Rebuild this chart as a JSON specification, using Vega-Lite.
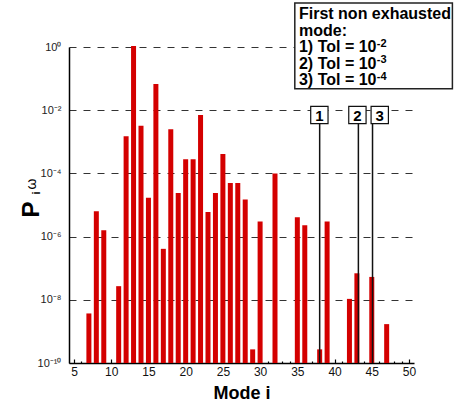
{
  "$schema": "https://vega.github.io/schema/vega-lite/v6.json",
  "width": 345,
  "height": 316,
  "autosize": {"type": "none"},
  "padding": {"left": 69, "top": 47, "right": 46, "bottom": 39},
  "config": {
    "font": "Liberation Sans",
    "view": {"stroke": null},
    "axis": {"labelFont": "Liberation Sans", "titleFont": "Liberation Sans"}
  },
  "datasets": {
    "modes": [
      {"mode": 7, "P": 3.7e-9},
      {"mode": 8, "P": 6.3e-6},
      {"mode": 9, "P": 1.6e-6},
      {"mode": 11, "P": 2.7e-8},
      {"mode": 12, "P": 1.5e-3},
      {"mode": 13, "P": 1.07},
      {"mode": 14, "P": 3.2e-3},
      {"mode": 15, "P": 1.7e-5},
      {"mode": 16, "P": 0.068},
      {"mode": 17, "P": 4.1e-7},
      {"mode": 18, "P": 2.5e-3},
      {"mode": 19, "P": 2.4e-5},
      {"mode": 20, "P": 2.8e-4},
      {"mode": 21, "P": 2.8e-4},
      {"mode": 22, "P": 7.1e-3},
      {"mode": 23, "P": 6e-6},
      {"mode": 24, "P": 2.4e-5},
      {"mode": 25, "P": 4.1e-4},
      {"mode": 26, "P": 5e-5},
      {"mode": 27, "P": 5e-5},
      {"mode": 28, "P": 1.5e-5},
      {"mode": 29, "P": 2.7e-10},
      {"mode": 30, "P": 3e-6},
      {"mode": 32, "P": 1e-4},
      {"mode": 35, "P": 4.1e-6},
      {"mode": 36, "P": 2.3e-6},
      {"mode": 38, "P": 2.7e-10},
      {"mode": 39, "P": 3e-6},
      {"mode": 42, "P": 1.07e-8},
      {"mode": 43, "P": 6.9e-8},
      {"mode": 45, "P": 5.3e-8},
      {"mode": 47, "P": 1.7e-9}
    ],
    "tolerances": [
      {"tol": "1", "firstMode": 38.0, "boxMode": 37.96},
      {"tol": "2", "firstMode": 43.2, "boxMode": 43.07},
      {"tol": "3", "firstMode": 45.1, "boxMode": 46.07}
    ]
  },
  "layer": [
    {
      "data": {"name": "modes"},
      "mark": {"type": "bar", "size": 5, "color": "#d40000"},
      "encoding": {
        "x": {
          "field": "mode", "type": "quantitative",
          "scale": {"domain": [5, 50], "nice": false, "zero": false},
          "axis": {
            "orient": "bottom",
            "values": [5,6,7,8,9,10,11,12,13,14,15,16,17,18,19,20,21,22,23,24,25,26,27,28,29,30,31,32,33,34,35,36,37,38,39,40,41,42,43,44,45,46,47,48,49,50],
            "tickCount": 100,
            "labelExpr": "datum.value % 5 === 0 ? format(datum.value, 'd') : ''",
            "labelOverlap": false,
            "labelFlush": false,
            "tickSize": {"condition": {"test": "datum.value % 5 === 0", "value": -4}, "value": -2},
            "tickColor": "#000",
            "tickWidth": 1.2,
            "labelPadding": 7,
            "labelFontSize": 12,
            "labelColor": "#111",
            "domainColor": "#000",
            "domainWidth": 1.6,
            "grid": false,
            "title": "Mode i",
            "titleFontSize": 18,
            "titleFontWeight": "bold",
            "titleColor": "#000",
            "titlePadding": 5
          }
        },
        "y": {
          "field": "P", "type": "quantitative",
          "scale": {"type": "log", "domain": [1e-10, 1], "nice": false},
          "axis": {
            "values": [1e-10, 1e-8, 1e-6, 1e-4, 1e-2, 1],
            "tickCount": 20,
            "labelExpr": "'10' + (datum.value > 0.5 ? '⁰' : datum.value > 5e-3 ? '⁻²' : datum.value > 5e-5 ? '⁻⁴' : datum.value > 5e-7 ? '⁻⁶' : datum.value > 5e-9 ? '⁻⁸' : '⁻¹⁰')",
            "ticks": false,
            "labelPadding": 8,
            "labelFontSize": 11,
            "labelColor": "#222",
            "domainColor": "#000",
            "domainWidth": 1.5,
            "grid": true,
            "gridDash": [7, 7],
            "gridColor": "#333",
            "gridWidth": 1,
            "title": null
          }
        },
        "y2": {"datum": 1e-10}
      }
    },
    {
      "data": {"name": "tolerances"},
      "mark": {"type": "rule", "color": "#111", "strokeWidth": 1.5},
      "encoding": {
        "x": {"field": "firstMode", "type": "quantitative"},
        "y": {"datum": 0.00366},
        "y2": {"datum": 1e-10}
      }
    },
    {
      "data": {"name": "tolerances"},
      "mark": {"type": "point", "shape": "square", "size": 300, "filled": true, "fill": "#fff", "stroke": "#111", "strokeWidth": 1.2, "opacity": 1},
      "encoding": {
        "x": {"field": "boxMode", "type": "quantitative"},
        "y": {"datum": 0.00705}
      }
    },
    {
      "data": {"name": "tolerances"},
      "mark": {"type": "text", "fontSize": 15, "fontWeight": "bold", "color": "#000", "align": "center", "baseline": "middle", "dy": 1},
      "encoding": {
        "x": {"field": "boxMode", "type": "quantitative"},
        "y": {"datum": 0.00705},
        "text": {"field": "tol"}
      }
    },
    {
      "data": {"values": [{}]},
      "mark": {"type": "rect", "fill": "#fff", "stroke": "#222", "strokeWidth": 1.5},
      "encoding": {
        "x": {"datum": 34.66, "type": "quantitative"},
        "x2": {"datum": 55.83},
        "y": {"datum": 24.7, "type": "quantitative"},
        "y2": {"datum": 0.0479}
      }
    },
    {
      "data": {"values": [{}]},
      "mark": {
        "type": "text",
        "text": ["First non exhausted", "mode:", "1) Tol = 10", "2) Tol = 10", "3) Tol = 10"],
        "lineHeight": 16.5,
        "fontSize": 16,
        "fontWeight": "bold",
        "color": "#000",
        "align": "left",
        "baseline": "alphabetic"
      },
      "encoding": {
        "x": {"datum": 35.22, "type": "quantitative"},
        "y": {"datum": 7.69, "type": "quantitative"}
      }
    },
    {
      "data": {"values": [{}]},
      "mark": {
        "type": "text",
        "text": ["-2", "-3", "-4"],
        "lineHeight": 16.5,
        "fontSize": 11,
        "fontWeight": "bold",
        "color": "#000",
        "align": "left",
        "baseline": "alphabetic"
      },
      "encoding": {
        "x": {"datum": 45.68, "type": "quantitative"},
        "y": {"datum": 1.037, "type": "quantitative"}
      }
    },
    {
      "data": {"values": [{}]},
      "mark": {"type": "text", "text": "P", "angle": 270, "fontSize": 24, "fontWeight": "bold", "color": "#000", "align": "center", "baseline": "middle"},
      "encoding": {
        "x": {"datum": -0.65, "type": "quantitative"},
        "y": {"datum": 7.2e-6, "type": "quantitative"}
      }
    },
    {
      "data": {"values": [{}]},
      "mark": {"type": "text", "text": "i", "angle": 270, "fontSize": 11, "fontWeight": "bold", "color": "#000", "align": "center", "baseline": "middle"},
      "encoding": {
        "x": {"datum": 0.0, "type": "quantitative"},
        "y": {"datum": 2.4e-5, "type": "quantitative"}
      }
    },
    {
      "data": {"values": [{}]},
      "mark": {"type": "text", "text": "ω", "angle": 270, "fontSize": 14, "color": "#000", "align": "center", "baseline": "middle"},
      "encoding": {
        "x": {"datum": -0.7, "type": "quantitative"},
        "y": {"datum": 4.6e-5, "type": "quantitative"}
      }
    }
  ]
}
